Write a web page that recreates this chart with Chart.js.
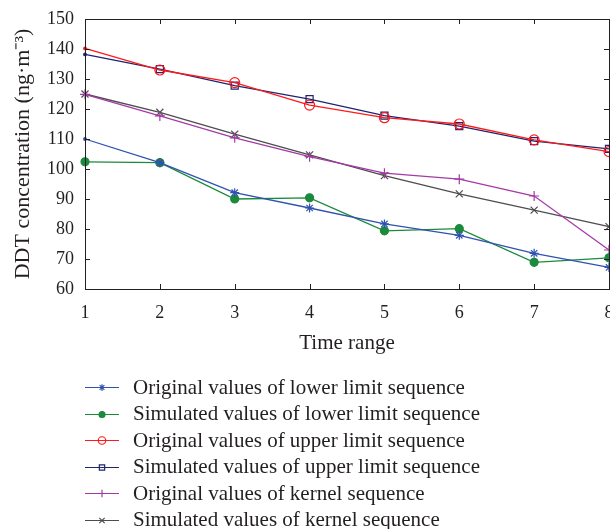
<!DOCTYPE html>
<html>
<head>
<meta charset="utf-8">
<script src="https://cdn.jsdelivr.net/npm/chart.js@4.4.0/dist/chart.umd.min.js"></script>
<style>
html, body { margin: 0; padding: 0; background: #fff; overflow: hidden; width: 610px; height: 529px; }
#wrap { position: relative; width: 620px; height: 360px; }
#legend { position: absolute; left: 85px; top: 374px; font-family: "Liberation Serif", serif; font-size: 21px; color: #231f20; }
.row { display: flex; align-items: center; height: 26.5px; white-space: nowrap; }
.row canvas { margin-right: 14px; }
</style>
</head>
<body>
<div id="wrap"><canvas id="chart" width="620" height="360"></canvas></div>
<div id="legend"></div>
<script>
const timeRange = [1, 2, 3, 4, 5, 6, 7, 8];
const origLower = [110, 102.1, 92.1, 87, 81.7, 77.9, 71.9, 67.2];
const simLower = [102.4, 102.1, 90, 90.4, 79.4, 80.1, 68.9, 70.4];
const origUpper = [140.2, 133, 128.8, 121.3, 117.1, 115, 109.7, 105.8];
const simUpper = [138.2, 133.3, 127.8, 123.3, 117.8, 114.3, 109.3, 106.7];
const origKernel = [124.9, 117.7, 110.4, 104.1, 98.6, 96.6, 91, 73];
const simKernel = [125, 118.9, 111.6, 104.7, 97.8, 91.7, 86.3, 80.8];

const seriesNames = [
    "Original values of lower limit sequence",
    "Simulated values of lower limit sequence",
    "Original values of upper limit sequence",
    "Simulated values of upper limit sequence",
    "Original values of kernel sequence",
    "Simulated values of kernel sequence"
];

const FONT = "'Liberation Serif', serif";
const TEXT = "#231f20";

// smallFirst: the first point is drawn as a dot only, like in the source figure
function makeSet(label, data, color, style, radius, filled, smallFirst) {
    return {
        label: label,
        data: data,
        borderColor: color,
        backgroundColor: filled ? color : "rgba(0,0,0,0)",
        borderWidth: 1.3,
        pointStyle: smallFirst ? (c => c.dataIndex === 0 ? "circle" : style) : style,
        pointRadius: smallFirst ? (c => c.dataIndex === 0 ? 1.3 : radius) : radius,
        pointBorderWidth: 1.2,
        pointBorderColor: color,
        pointBackgroundColor: filled || smallFirst ? (c => (filled || c.dataIndex === 0) ? color : "rgba(0,0,0,0)") : "rgba(0,0,0,0)",
        tension: 0,
        fill: false,
        clip: false,
        legendStyle: style,
        legendRadius: radius,
        legendFill: filled ? color : "rgba(0,0,0,0)"
    };
}

const datasets = [
    makeSet(seriesNames[0], origLower, "#2f52b0", "star", 4.5, false, true),
    makeSet(seriesNames[1], simLower, "#1b8a3c", "circle", 4, true, false),
    makeSet(seriesNames[2], origUpper, "#ff1a1a", "circle", 5, false, true),
    makeSet(seriesNames[3], simUpper, "#1f2470", "rect", 5, false, true),
    makeSet(seriesNames[4], origKernel, "#a43aa6", "cross", 5, false, false),
    makeSet(seriesNames[5], simKernel, "#4d4d4d", "crossRot", 5, false, false)
];

// box with inward ticks on all four sides
const framePlugin = {
    id: "frame",
    afterDraw(chart) {
        const ctx = chart.ctx;
        const a = chart.chartArea;
        const xs = chart.scales.x;
        const ys = chart.scales.y;
        const len = 5;
        ctx.save();
        ctx.strokeStyle = TEXT;
        ctx.lineWidth = 1;
        ctx.strokeRect(a.left + 0.5, a.top + 0.5, a.right - a.left, a.bottom - a.top);
        ctx.beginPath();
        xs.ticks.forEach((t, i) => {
            const px = Math.round(xs.getPixelForTick(i)) + 0.5;
            ctx.moveTo(px, a.bottom); ctx.lineTo(px, a.bottom - len);
            ctx.moveTo(px, a.top); ctx.lineTo(px, a.top + len);
        });
        ys.ticks.forEach((t, i) => {
            const py = Math.round(ys.getPixelForTick(i)) + 0.5;
            ctx.moveTo(a.left, py); ctx.lineTo(a.left + len, py);
            ctx.moveTo(a.right, py); ctx.lineTo(a.right - len, py);
        });
        ctx.stroke();
        ctx.restore();
    }
};

const chart = new Chart(document.getElementById("chart"), {
    type: "line",
    data: { labels: timeRange, datasets: datasets },
    options: {
        responsive: false,
        animation: false,
        devicePixelRatio: 1,
        layout: { padding: { left: 0, top: 19, right: 11, bottom: 0 } },
        plugins: { legend: { display: false }, tooltip: { enabled: false } },
        scales: {
            x: {
                type: "category",
                offset: false,
                grid: { display: false, drawTicks: false },
                border: { display: false },
                ticks: { color: TEXT, font: { family: FONT, size: 18 }, padding: 13, autoSkip: false, maxRotation: 0 },
                title: { display: true, text: "Time range", color: TEXT, font: { family: FONT, size: 21 }, padding: { top: 4, bottom: 4 } },
                afterFit(scale) {
                    scale.height = 71;
                    scale.paddingLeft = 0;
                    scale.paddingRight = 0;
                }
            },
            y: {
                min: 60,
                max: 150,
                grid: { display: false, drawTicks: false },
                border: { display: false },
                ticks: { stepSize: 10, color: TEXT, font: { family: FONT, size: 18 }, padding: 11 },
                title: { display: true, text: "DDT concentration (ng·m⁻³)", color: TEXT, font: { family: FONT, size: 22 }, padding: { top: 10, bottom: 10 } },
                afterFit(scale) {
                    scale.width = 85;
                    scale.paddingTop = 0;
                    scale.paddingBottom = 0;
                }
            }
        }
    },
    plugins: [framePlugin]
});

// legend built from the datasets, one item per row
const legendBox = document.getElementById("legend");
chart.data.datasets.forEach(ds => {
    const row = document.createElement("div");
    row.className = "row";
    const c = document.createElement("canvas");
    c.width = 34; c.height = 20;
    const g = c.getContext("2d");
    g.strokeStyle = ds.borderColor;
    g.fillStyle = ds.legendFill;
    g.lineWidth = 1.2;
    g.beginPath(); g.moveTo(0, 10.5); g.lineTo(34, 10.5); g.stroke();
    if (Chart.helpers && Chart.helpers.drawPoint) {
        Chart.helpers.drawPoint(g, { pointStyle: ds.legendStyle, radius: ds.legendRadius * 0.75, rotation: 0, borderWidth: 1.2 }, 17, 10.5);
    }
    const span = document.createElement("span");
    span.textContent = ds.label;
    row.appendChild(c);
    row.appendChild(span);
    legendBox.appendChild(row);
});
</script>
</body>
</html>
